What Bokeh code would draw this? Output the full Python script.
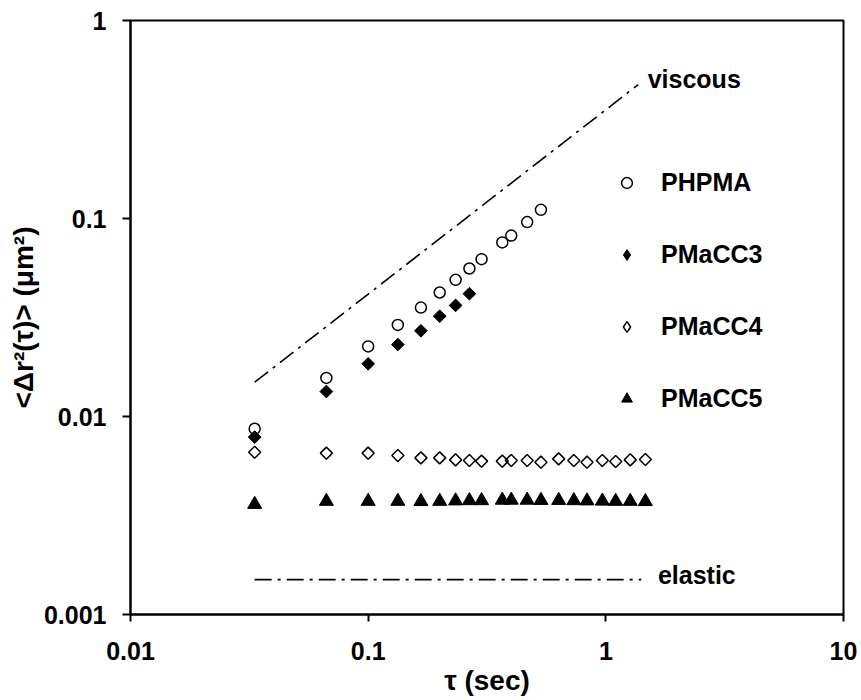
import math
from bokeh.plotting import figure
from bokeh.models import Range1d, FixedTicker, Label, Legend, LegendItem
from bokeh.embed import file_html
from bokeh.resources import INLINE

# ---- data ----
tau = [0.0333, 0.0667, 0.1, 0.1333, 0.1667, 0.2, 0.2333, 0.2667, 0.3, 0.3667,
       0.4, 0.4667, 0.5333, 0.6333, 0.7333, 0.8333, 0.9667, 1.1, 1.2667, 1.4667]
phpma = [0.00867, 0.01567, 0.0226, 0.029, 0.0355, 0.0423, 0.049, 0.0559, 0.0623,
         0.0757, 0.082, 0.0959, 0.1106]
pmacc3 = [0.00787, 0.01337, 0.01845, 0.0231, 0.0271, 0.0321, 0.0364, 0.0417]
pmacc4 = [0.0066, 0.00653, 0.00653, 0.00635, 0.00618, 0.00618, 0.00604, 0.006,
          0.00595, 0.00595, 0.006, 0.006, 0.00588, 0.00611, 0.006, 0.00588,
          0.006, 0.00593, 0.00604, 0.00607]
pmacc5 = [0.0036, 0.00373, 0.00373, 0.00373, 0.00372, 0.00373, 0.00375, 0.00376,
          0.00376, 0.00378, 0.00378, 0.00378, 0.00377, 0.00377, 0.00376, 0.00375,
          0.00374, 0.00373, 0.00373, 0.00372]
viscous_x = [0.0333, 1.37]
viscous_y = [0.0149, 0.475]
elastic_x = [0.0333, 1.41]
elastic_y = [0.0015, 0.0015]
x_ticks = [0.01, 0.1, 1, 10]
x_tick_labels = ["0.01", "0.1", "1", "10"]
y_ticks = [0.001, 0.01, 0.1, 1]
y_tick_labels = ["0.001", "0.01", "0.1", "1"]
series_names = ["PHPMA", "PMaCC3", "PMaCC4", "PMaCC5"]

FONT = "Liberation Sans"
FS = "25px"
TITLE_FS = "28px"

p = figure(width=861, height=700, x_axis_type="log", y_axis_type="log",
           x_range=Range1d(0.01, 10), y_range=Range1d(0.001, 1),
           output_backend="svg", toolbar_location=None,
           min_border_left=130, min_border_right=18, min_border_top=20,
           min_border_bottom=86)

p.xgrid.visible = False
p.ygrid.visible = False
p.outline_line_color = "black"
p.outline_line_width = 2
p.background_fill_color = "white"
p.border_fill_color = "white"

for ax, ticks, labels in ((p.xaxis[0], x_ticks, x_tick_labels), (p.yaxis[0], y_ticks, y_tick_labels)):
    ax.ticker = FixedTicker(ticks=ticks, minor_ticks=[])
    ax.major_label_overrides = {t: l for t, l in zip(ticks, labels)}
    ax.axis_line_color = "black"
    ax.axis_line_width = 2
    ax.major_tick_line_color = "black"
    ax.major_tick_line_width = 2
    ax.major_tick_in = 0
    ax.minor_tick_line_color = None
    ax.major_label_text_font = FONT
    ax.major_label_text_font_style = "bold"
    ax.major_label_text_font_size = FS
    ax.major_label_text_color = "black"
    ax.axis_label_text_font = FONT
    ax.axis_label_text_font_style = "bold"
    ax.axis_label_text_font_size = TITLE_FS
    ax.axis_label_text_color = "black"

p.xaxis.major_tick_out = 7
p.xaxis.major_label_standoff = 20
p.xaxis.axis_label = "τ (sec)"
p.xaxis.axis_label_standoff = 2

p.yaxis.major_tick_out = 8
p.yaxis.major_label_standoff = 16
p.yaxis.axis_label = "<Δr²(τ)> (μm²)"
p.yaxis.axis_label_standoff = 2

# reference lines
p.line(viscous_x, viscous_y, line_color="black", line_width=1.6, line_dash="17 6 3 6")
p.line(elastic_x, elastic_y, line_color="black", line_width=1.6, line_dash="17 6 3 6")

r1 = p.scatter(tau[:len(phpma)], phpma, marker="circle", size=11,
               fill_color=None, line_color="black", line_width=1.5)
r2 = p.scatter(tau[:len(pmacc3)], pmacc3, marker="square", angle=math.pi / 4, size=9,
               fill_color="black", line_color="black", line_width=1)
r3 = p.scatter(tau, pmacc4, marker="square", angle=math.pi / 4, size=8.5,
               fill_color=None, line_color="black", line_width=1.5)
r4 = p.scatter(tau, pmacc5, marker="triangle", size=14,
               fill_color="black", line_color="black", line_width=1)

# legend swatches: same data, zero size on the plot; the legend draws its own size
k2 = p.scatter(tau[:len(pmacc3)], pmacc3, marker="diamond", size=0,
               fill_color="black", line_color="black", line_width=1)
k3 = p.scatter(tau, pmacc4, marker="diamond", size=0,
               fill_color=None, line_color="black", line_width=1.5)

legend = Legend(items=[LegendItem(label=n, renderers=[r]) for n, r in
                       zip(series_names, [r1, k2, k3, r4])],
                location=(483, 201), glyph_width=27, glyph_height=27,
                label_height=30, spacing=42, padding=0, margin=0,
                label_standoff=21, border_line_color=None,
                background_fill_alpha=0,
                label_text_font=FONT, label_text_font_style="bold",
                label_text_font_size=FS, label_text_color="black")
p.add_layout(legend)

for txt, x, y in (("viscous", 1.5, 0.509), ("elastic", 1.656, 0.00159)):
    p.add_layout(Label(x=x, y=y, text=txt, text_font=FONT, text_font_style="bold",
                       text_font_size=FS, text_color="black",
                       text_baseline="middle", text_align="left"))

open("out.html", "w").write(file_html(p, INLINE))
